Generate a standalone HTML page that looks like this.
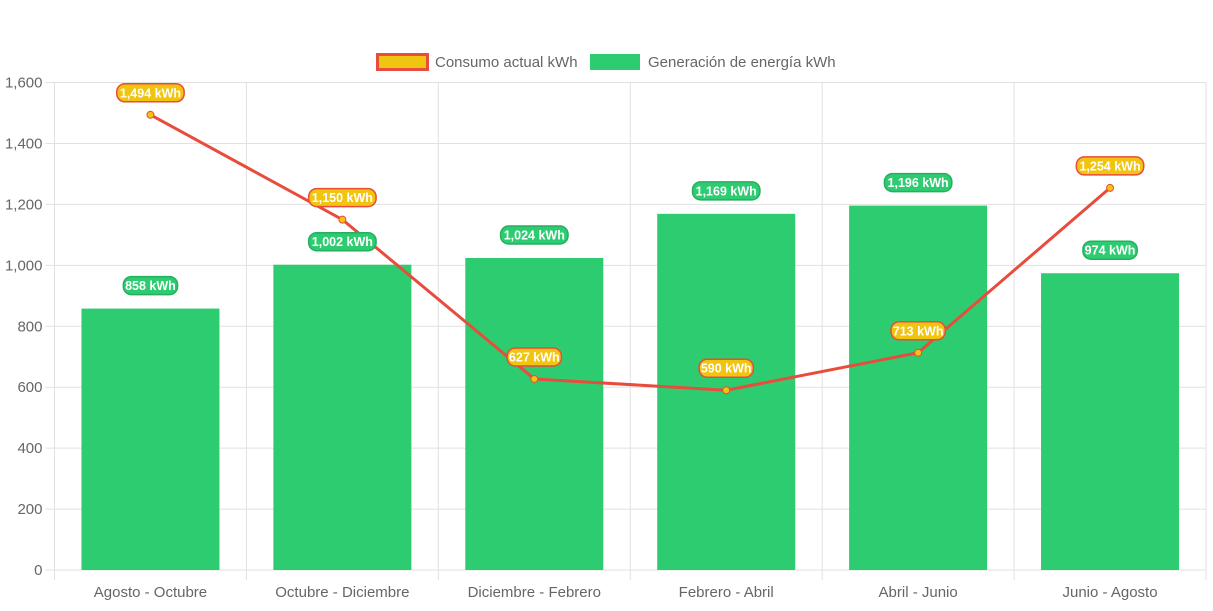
<!DOCTYPE html>
<html><head><meta charset="utf-8"><style>
body{margin:0;background:#fff;font-family:"Liberation Sans",sans-serif}
svg text{font-family:"Liberation Sans",sans-serif}
</style></head><body>
<svg id="c" width="1213" height="606"></svg>
<script>
const categories=["Agosto - Octubre","Octubre - Diciembre","Diciembre - Febrero","Febrero - Abril","Abril - Junio","Junio - Agosto"];
const generation=[858,1002,1024,1169,1196,974];
const consumption=[1494,1150,627,590,713,1254];
const yTicks=[0,200,400,600,800,1000,1200,1400,1600];
const NS="http://www.w3.org/2000/svg";
const svg=document.getElementById('c');
const L=54.5,R=1206,T=82.5,B=570,yMax=1600;
const band=(R-L)/categories.length;
const x=i=>L+band*(i+0.5);
const y=v=>B-(v/yMax)*(B-T);
function el(t,a,p){const e=document.createElementNS(NS,t);for(const k in a)e.setAttribute(k,a[k]);(p||svg).appendChild(e);return e;}
const grid=el('g',{});


yTicks.forEach(v=>{
  el('line',{x1:L-9,x2:R,y1:y(v),y2:y(v),stroke:'#e1e1e1','stroke-width':1},grid);
  const t=el('text',{x:L-12,y:y(v)+5,'text-anchor':'end','font-size':15,fill:'#666'});
  t.textContent=v.toLocaleString('en-US');
  
  
});
for(let i=0;i<=categories.length;i++){
  el('line',{x1:L+band*i,x2:L+band*i,y1:T,y2:B+10,stroke:'#e1e1e1','stroke-width':1},grid);
}
categories.forEach((c,i)=>{
  const t=el('text',{x:x(i),y:597,'text-anchor':'middle','font-size':15,fill:'#666'});
  t.textContent=c;
  
  
});
const bw=138;
generation.forEach((v,i)=>{
  const r=el('rect',{x:x(i)-bw/2,y:y(v),width:bw,height:B-y(v),fill:'#2ecc71'});
  
  
});
let pts=consumption.map((v,i)=>x(i)+','+y(v)).join(' ');
const pl=el('polyline',{points:pts,fill:'none',stroke:'#e74c3c','stroke-width':3});


consumption.forEach((v,i)=>{
  const c=el('circle',{cx:x(i),cy:y(v),r:3.5,fill:'#f1c40f',stroke:'#e74c3c','stroke-width':1});
  
  
});
function badge(v,cx,cy,fill,stroke,name){
  const txt=v.toLocaleString('en-US')+' kWh';
  const w=txt.length*6.6+8;
  const g=el('g',{});
  
  
  el('rect',{x:cx-w/2,y:cy-9,width:w,height:18,rx:8,fill:fill,stroke:stroke,'stroke-width':1.5},g);
  const t=el('text',{x:cx,y:cy+4.5,'text-anchor':'middle','font-size':12.5,'font-weight':'bold',fill:'#fff'},g);
  t.textContent=txt;
}
generation.forEach((v,i)=>badge(v,x(i),y(v)-23,'#2ecc71','#27ae60','generation-label'));
consumption.forEach((v,i)=>badge(v,x(i),y(v)-22,'#f1c40f','#e74c3c','consumption-label'));
const lg=el('g',{});


const l1=el('g',{},lg);


el('rect',{x:377.5,y:54.5,width:50,height:15,fill:'#f1c40f',stroke:'#e74c3c','stroke-width':3},l1);
const t1=el('text',{x:435,y:67,'font-size':15,fill:'#666'},l1);t1.textContent='Consumo actual kWh';
const l2=el('g',{},lg);


el('rect',{x:590,y:54,width:50,height:16,fill:'#2ecc71'},l2);
const t2=el('text',{x:648,y:67,'font-size':15,fill:'#666'},l2);t2.textContent='Generación de energía kWh';
</script>
</body></html>
